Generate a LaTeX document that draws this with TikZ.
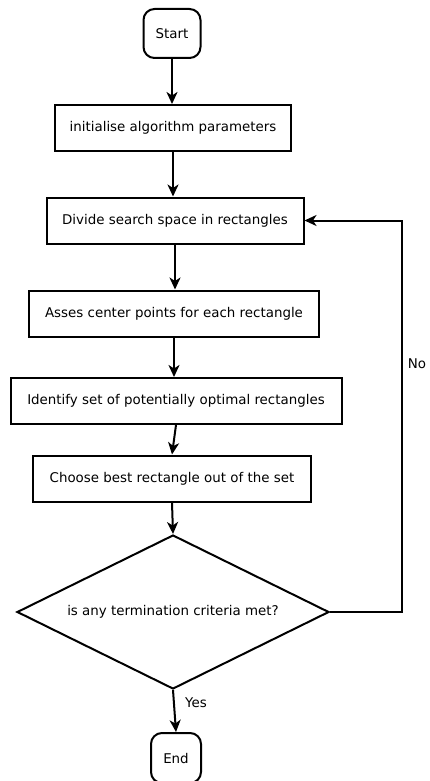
\documentclass[tikz,border=0pt]{standalone}
\usepackage{fontspec}
\setmainfont{DejaVu Sans}
\usetikzlibrary{shapes.geometric,arrows.meta}

\begin{document}
\begin{tikzpicture}
        [
        x=1pt, y=-1pt,
        every node/.style={font=\fontsize{13.4}{16}\selectfont},
        step box/.style={rectangle, draw, line width=2pt, inner sep=0pt, minimum height=46pt},
        term/.style={rectangle, draw, line width=2pt, rounded corners=11pt, inner sep=0pt},
        decision/.style={diamond, draw, line width=2pt, inner sep=0pt, aspect=2.03},
        flow/.style={-{Stealth[length=12pt, width=11pt, inset=3.5pt]}, line width=2pt}
        ]

        \useasboundingbox (0,0) rectangle (429,781);

        \node[term, minimum width=57pt, minimum height=49pt] (start) at (172,33.5) {Start};
        \node[step box, minimum width=236pt] (init) at (173,128) {initialise algorithm parameters};
        \node[step box, minimum width=257pt] (divide) at (175,220.5) {Divide search space in rectangles};
        \node[step box, minimum width=290pt] (asses) at (174,313.5) {Asses center points for each rectangle};
        \node[step box, minimum width=331pt] (identify) at (176,401) {Identify set of potentially optimal rectangles};
        \node[step box, minimum width=278pt] (choose) at (172,478.5) {Choose best rectangle out of the set};
        \node[decision, minimum width=312pt, minimum height=154pt] (crit) at (173,612) {is any termination criteria met?};
        \node[term, minimum width=50pt, minimum height=50pt] (end) at (176,758) {End};

        \coordinate (loop) at (402,0);
        \node (no) at (417,364) {No};
        \node (yes) at (196,703) {Yes};

        \draw[flow] (start.south) -- (start.south |- init.north);
        \draw[flow] (init.south) -- (init.south |- divide.north);
        \draw[flow] (divide.south) -- (divide.south |- asses.north);
        \draw[flow] (asses.south) -- (asses.south |- identify.north);
        \draw[flow] (identify.south) -- (choose.north);
        \draw[flow] (choose.south) -- (crit.north);
        \draw[flow] (crit.south) -- (end.north);
        \draw[flow] (crit.east) -- (crit.east -| loop) |- (divide.east);

    \end{tikzpicture}
\end{document}
